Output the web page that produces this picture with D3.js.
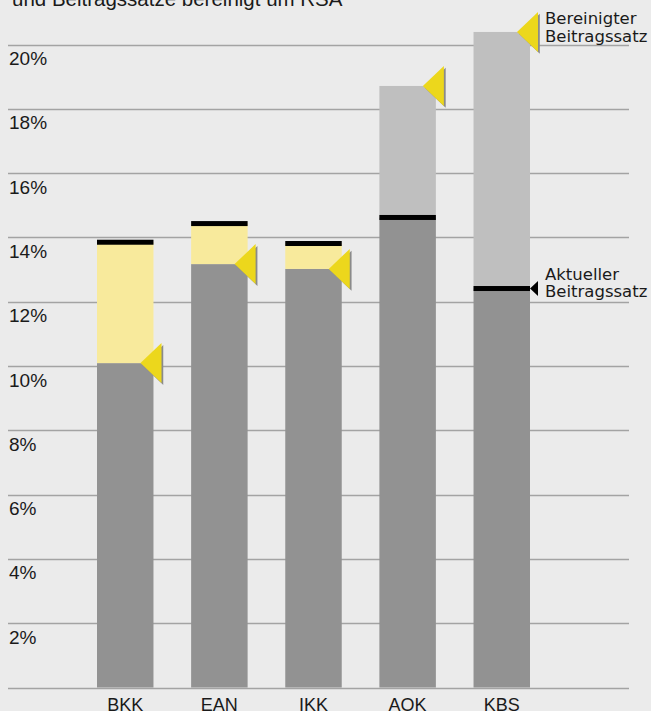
<!DOCTYPE html>
<html><head><meta charset="utf-8">
<script src="https://cdn.jsdelivr.net/npm/d3@7"></script>
<style>html,body{margin:0;padding:0;background:#ebebeb;overflow:hidden}svg{display:block}</style>
</head><body>
<script>
const categories = ["BKK","EAN","IKK","AOK","KBS"];
const currentRate = [13.85, 14.43, 13.81, 14.62, 12.41];   // Aktueller Beitragssatz
const adjustedRate = [10.09, 13.17, 13.02, 18.71, 20.39];  // Bereinigter Beitragssatz
const tickValues = [2,4,6,8,10,12,14,16,18,20];
const tickLabels = ["2%","4%","6%","8%","10%","12%","14%","16%","18%","20%"];
const titleText = "und Beitragssätze bereinigt um RSA";

const W = 651, H = 711;
const svg = d3.select("body").append("svg").attr("width", W).attr("height", H);
svg.append("rect").attr("width", W).attr("height", H).attr("fill", "#ebebeb");

const font = "'Liberation Sans', Arial, Helvetica, sans-serif";
const font2 = "'DejaVu Sans', Verdana, sans-serif";
const y = d3.scaleLinear().domain([0, 20]).range([687.5, 44.5]);
const x = d3.scaleBand().domain(categories).range([97, 530]).paddingInner(0.4).paddingOuter(0);

// title (cut off at top)
svg.append("text").attr("x", 12).attr("y", 6).attr("font-family", font).attr("font-size", 20.5)
  .attr("fill", "#1a1a1a").text(titleText);

// gridlines
const grid = svg.append("g");
grid.selectAll("line").data([0, ...tickValues]).join("line")
  .attr("x1", 8).attr("x2", 629)
  .attr("y1", d => Math.round(y(d)) + 0.5).attr("y2", d => Math.round(y(d)) + 0.5)
  .attr("stroke", "#a3a3a3").attr("stroke-width", 1.3);

// y labels
svg.append("g").selectAll("text").data(tickValues).join("text")
  .attr("x", 9).attr("y", d => y(d) + 20.5)
  .attr("font-family", font).attr("font-size", 19).attr("fill", "#1a1a1a")
  .text((d, i) => tickLabels[i]);

const data = categories.map((c, i) => ({ c, cur: currentRate[i], adj: adjustedRate[i] }));
const bw = x.bandwidth();

const bars = svg.append("g");
// dark base bar: 0 .. min
bars.selectAll("rect.base").data(data).join("rect").attr("class", "base")
  .attr("x", d => x(d.c)).attr("width", bw)
  .attr("y", d => y(Math.min(d.cur, d.adj))).attr("height", d => y(0) - y(Math.min(d.cur, d.adj)))
  .attr("fill", "#929292");
// difference part
bars.selectAll("rect.diff").data(data).join("rect").attr("class", "diff")
  .attr("x", d => x(d.c)).attr("width", bw)
  .attr("y", d => y(Math.max(d.cur, d.adj))).attr("height", d => y(Math.min(d.cur, d.adj)) - y(Math.max(d.cur, d.adj)))
  .attr("fill", d => d.adj < d.cur ? "#f8ea9c" : "#bfbfbf");
// current rate black line
bars.selectAll("rect.cur").data(data).join("rect").attr("class", "cur")
  .attr("x", d => x(d.c)).attr("width", bw)
  .attr("y", d => y(d.cur) - 2.5).attr("height", 5)
  .attr("fill", "#000");

// yellow triangles for adjusted rate
function triPath(d, dx, dy) {
  const xr = x(d.c) + bw, yy = y(d.adj);
  return `M${xr - 13 + dx},${yy + dy} L${xr + 8 + dx},${yy - 20 + dy} L${xr + 8 + dx},${yy + 20 + dy} Z`;
}
const tri = svg.append("g");
tri.selectAll("path.sh").data(data).join("path").attr("class", "sh")
  .attr("d", d => triPath(d, 1.8, 1.8)).attr("fill", "#8a8a8a");
tri.selectAll("path.tr").data(data).join("path").attr("class", "tr")
  .attr("d", d => triPath(d, 0, 0)).attr("fill", "#ecd71c");

// category labels
svg.append("g").selectAll("text").data(categories).join("text")
  .attr("x", d => x(d) + bw / 2).attr("y", 711)
  .attr("text-anchor", "middle").attr("font-family", font).attr("font-size", 18)
  .attr("fill", "#1a1a1a").text(d => d);

// annotations
const last = data[data.length - 1];
const ann = svg.append("g").attr("font-family", font2).attr("font-size", 16.5).attr("fill", "#1a1a1a");
ann.append("text").attr("x", 545).attr("y", 24).text("Bereinigter");
ann.append("text").attr("x", 545).attr("y", 42).text("Beitragssatz");

const xr = x(last.c) + bw, yc = y(last.cur);
svg.append("path").attr("d", `M${xr},${yc} L${xr + 8},${yc - 7.5} L${xr + 8},${yc + 7.5} Z`).attr("fill", "#000");
ann.append("text").attr("x", 545).attr("y", 280).text("Aktueller");
ann.append("text").attr("x", 545).attr("y", 297).text("Beitragssatz");
</script>
</body></html>
